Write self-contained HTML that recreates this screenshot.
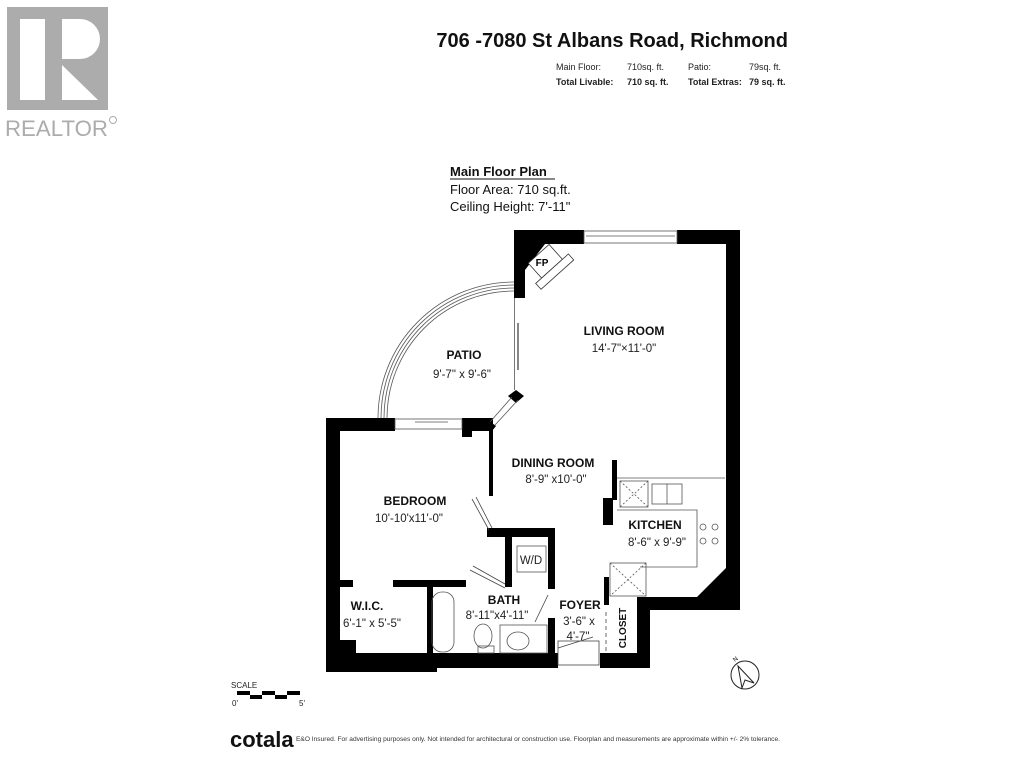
<!DOCTYPE html>
<html><head><meta charset="utf-8"><style>
html,body{margin:0;padding:0;background:#fff;}
svg{display:block;font-family:"Liberation Sans",sans-serif;}
</style></head><body>
<svg width="1024" height="768" viewBox="0 0 1024 768" xmlns="http://www.w3.org/2000/svg">
<rect width="1024" height="768" fill="#fff"/>
<!-- REALTOR logo -->
<rect x="7" y="7" width="101" height="103" fill="#acacac"/>
<rect x="20" y="19" width="25" height="81" fill="#fff"/>
<path d="M62 19 H80 A20 20 0 0 1 80 59 H62 Z" fill="#fff"/>
<path d="M62 65 L98 100 H62 Z" fill="#fff"/>
<text x="5" y="136" font-size="22" fill="#acacac" textLength="103" lengthAdjust="spacingAndGlyphs">REALTOR</text>
<circle cx="113" cy="120" r="3.5" fill="none" stroke="#acacac" stroke-width="1"/>
<!-- header -->
<text x="788" y="47" font-size="20" font-weight="bold" text-anchor="end" fill="#111">706 -7080 St Albans Road, Richmond</text>
<g font-size="9" fill="#222">
<text x="556" y="70">Main Floor:</text><text x="627" y="70">710sq. ft.</text>
<text x="688" y="70">Patio:</text><text x="749" y="70">79sq. ft.</text>
<g font-weight="bold"><text x="556" y="85">Total Livable:</text><text x="627" y="85">710 sq. ft.</text>
<text x="688" y="85">Total Extras:</text><text x="749" y="85">79 sq. ft.</text></g>
</g>
<text x="450" y="176" font-size="13" font-weight="bold" fill="#111">Main Floor Plan</text>
<line x1="450" y1="179" x2="555" y2="179" stroke="#111" stroke-width="1"/>
<text x="450" y="194" font-size="13" fill="#111">Floor Area: 710 sq.ft.</text>
<text x="450" y="211" font-size="13" fill="#111">Ceiling Height: 7'-11"</text>

<!-- patio arc -->
<g fill="none" stroke="#555" stroke-width="0.8">
<path d="M514 282 A136 136 0 0 0 378 418"/>
<path d="M514 285 A133 133 0 0 0 381 418"/>
<path d="M514 288 A130 130 0 0 0 384 418"/>
<path d="M514 291 A127 127 0 0 0 387 418"/>
</g>

<!-- walls -->
<g fill="#000">
<rect x="514" y="230" width="70" height="14"/>
<rect x="514" y="230" width="11" height="68"/>
<polygon points="525,244 545,244 525,270"/>
<rect x="677" y="230" width="63" height="14"/>
<rect x="726" y="230" width="14" height="380"/>
<polygon points="726,568 740,568 740,610 650,610 650,597 697,597"/>
<rect x="637" y="597" width="13" height="71"/>
<rect x="326" y="418" width="69" height="13"/>
<rect x="462" y="418" width="31" height="13"/>
<rect x="462" y="418" width="10" height="19"/>
<rect x="326" y="418" width="14" height="254"/>
<rect x="489" y="431" width="4" height="65"/>
<polygon points="516,390 524,396 516,403 508,396"/>
<rect x="487" y="528" width="68" height="9"/>
<rect x="505" y="537" width="7" height="50"/>
<rect x="548" y="537" width="7" height="52"/>
<rect x="548" y="618" width="7" height="40"/>
<rect x="326" y="580" width="27" height="7"/>
<rect x="393" y="580" width="73" height="7"/>
<rect x="427" y="587" width="6" height="70"/>
<rect x="326" y="653" width="232" height="15"/>
<rect x="326" y="640" width="30" height="32"/>
<rect x="356" y="660" width="81" height="12"/>
<rect x="600" y="653" width="50" height="15"/>
<rect x="612" y="460" width="5" height="40"/>
<rect x="603" y="498" width="10" height="27"/>
<rect x="604" y="577" width="5" height="28"/>
</g>
<!-- windows -->
<g fill="#fff" stroke="#555" stroke-width="0.8">
<rect x="584" y="231" width="93" height="12"/>
<line x1="586" y1="236" x2="675" y2="236"/>
<rect x="395" y="419" width="67" height="10"/>
<line x1="415" y1="422" x2="448" y2="422"/>
</g>
<line x1="514.5" y1="298" x2="514.5" y2="390" stroke="#777" stroke-width="1"/>
<line x1="518" y1="323" x2="518" y2="370" stroke="#888" stroke-width="2"/>
<g stroke="#555" stroke-width="0.8"><line x1="512" y1="397" x2="490" y2="422"/><line x1="518" y1="400" x2="495" y2="425"/></g>
<polygon points="488,420 496,426 492,431 484,425" fill="#000"/>
<!-- FP -->
<g transform="translate(546,262) rotate(-42)">
<rect x="-14" y="-11" width="28" height="20" fill="#fff" stroke="#333" stroke-width="0.8"/>
<rect x="-22" y="9" width="44" height="8" fill="#fff" stroke="#333" stroke-width="0.8"/>
</g>
<text x="542" y="266" font-size="10" font-weight="bold" text-anchor="middle">FP</text>
<!-- doors -->
<g fill="none" stroke="#444" stroke-width="0.8">
<path d="M472 499 L489 530"/><path d="M476 497 L492 528"/>
<path d="M473 566 L505 584"/><path d="M470 570 L505 588"/>
<path d="M548 595 L535 622"/>
<rect x="558" y="641" width="41" height="24"/>
<path d="M558 648 L593 637"/>
<line x1="606" y1="612" x2="606" y2="652" stroke-dasharray="4 3"/>
</g>
<!-- kitchen counters -->
<g fill="none" stroke="#555" stroke-width="0.8">
<polyline points="617,478 725,478"/>
<polyline points="617,510 697,510 697,567 640,567"/>
<rect x="620" y="481" width="28" height="26"/>
<line x1="620" y1="481" x2="648" y2="507" stroke-dasharray="2 2"/><line x1="648" y1="481" x2="620" y2="507" stroke-dasharray="2 2"/>
<rect x="652" y="484" width="30" height="20"/>
<line x1="667" y1="484" x2="667" y2="504"/>
<rect x="610" y="563" width="36" height="33"/>
<line x1="610" y1="563" x2="646" y2="596" stroke-dasharray="2 2"/><line x1="646" y1="563" x2="610" y2="596" stroke-dasharray="2 2"/>
<circle cx="703" cy="527" r="3"/><circle cx="715" cy="527" r="3"/>
<circle cx="703" cy="541" r="3"/><circle cx="715" cy="541" r="3"/>
<rect x="517" y="546" width="29" height="26"/>
<rect x="432" y="592" width="22" height="60" rx="10"/>
<ellipse cx="483" cy="636" rx="9" ry="12"/>
<rect x="478" y="646" width="16" height="7"/>
<rect x="500" y="625" width="47" height="28"/>
<ellipse cx="518" cy="641" rx="11" ry="9"/>
</g>
<!-- room labels -->
<g font-size="12" font-weight="bold" text-anchor="middle" fill="#111">
<text x="624" y="335">LIVING ROOM</text>
<text x="464" y="359">PATIO</text>
<text x="553" y="467">DINING ROOM</text>
<text x="415" y="505">BEDROOM</text>
<text x="655" y="529">KITCHEN</text>
<text x="367" y="610">W.I.C.</text>
<text x="504" y="604">BATH</text>
<text x="580" y="609">FOYER</text>
<text x="626" y="628" font-size="10" transform="rotate(-90 626 628)">CLOSET</text>
</g>
<g font-size="11.5" text-anchor="middle" fill="#222">
<text x="624" y="352">14'-7"×11'-0"</text>
<text x="462" y="378">9'-7" x 9'-6"</text>
<text x="556" y="483">8'-9" x10'-0"</text>
<text x="409" y="522">10'-10'x11'-0"</text>
<text x="657" y="546">8'-6" x 9'-9"</text>
<text x="531" y="564">W/D</text>
<text x="372" y="627">6'-1" x 5'-5"</text>
<text x="497" y="619">8'-11"x4'-11"</text>
<text x="579" y="625">3'-6" x</text>
<text x="578" y="640">4'-7"</text>
</g>
<!-- compass -->
<circle cx="745" cy="675" r="14" fill="none" stroke="#222" stroke-width="1"/>
<polygon points="738,666 754,683 745,680 742,688" fill="#fff" stroke="#222" stroke-width="1"/>
<text x="735" y="662" font-size="6" transform="rotate(-40 735 662)">N</text>
<!-- scale -->
<text x="231" y="688" font-size="8" fill="#222">SCALE</text>
<g fill="#000">
<rect x="237" y="691" width="13" height="4"/><rect x="250" y="695" width="12" height="4"/>
<rect x="262" y="691" width="13" height="4"/><rect x="275" y="695" width="12" height="4"/>
<rect x="287" y="691" width="13" height="4"/>
</g>
<text x="232" y="706" font-size="8" fill="#222">0'</text>
<text x="299" y="706" font-size="8" fill="#222">5'</text>
<!-- footer -->
<text x="230" y="747" font-size="22" font-weight="bold" fill="#111">cotala</text>
<text x="296" y="741" font-size="6.5" fill="#333" textLength="484" lengthAdjust="spacingAndGlyphs">E&amp;O Insured. For advertising purposes only. Not intended for architectural or construction use. Floorplan and measurements are approximate within +/- 2% tolerance.</text>
</svg>
</body></html>
